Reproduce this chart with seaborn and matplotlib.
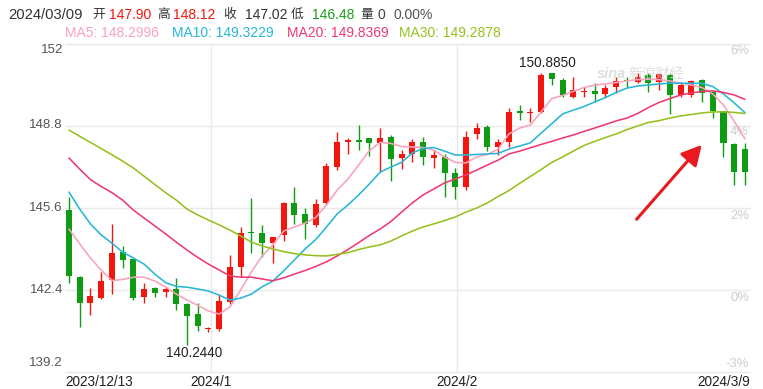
import numpy as np
import pandas as pd
import matplotlib
matplotlib.use("Agg")
import matplotlib.pyplot as plt
import matplotlib.transforms as mtransforms
import seaborn as sns

# ---------------- data ----------------
opens = [145.52, 142.92, 141.88, 142.08, 142.79, 143.87, 143.61, 142.14, 142.47, 142.32,
         142.44, 141.85, 141.46, 140.87, 140.87, 141.94, 143.31, 144.68, 144.61, 144.25,
         144.55, 145.78, 145.35, 144.94, 145.78, 147.19, 148.19, 148.21, 148.32, 148.12,
         148.38, 147.56, 147.71, 148.19, 147.54, 147.60, 146.95, 146.41, 148.49, 148.77,
         147.97, 148.19, 149.39, 149.31, 149.36, 150.86, 150.60, 149.94, 150.12, 150.17,
         150.05, 150.33, 150.60, 150.53, 150.79, 150.53, 150.79, 150.01, 150.01, 150.60,
         150.14, 149.40, 148.10, 147.90]
highs = [146.04, 142.95, 142.47, 143.11, 144.98, 144.12, 143.65, 142.66, 142.53, 142.53,
         142.86, 141.88, 141.90, 140.96, 142.24, 143.77, 144.87, 145.98, 144.94, 144.48,
         145.85, 146.43, 145.59, 145.95, 147.34, 148.57, 148.32, 148.84, 148.32, 148.73,
         148.45, 147.86, 148.28, 148.38, 147.86, 147.71, 147.15, 148.62, 148.93, 148.84,
         148.28, 149.51, 149.62, 149.49, 150.885, 150.86, 150.66, 150.70, 150.33, 150.47,
         150.40, 150.72, 150.72, 150.86, 150.86, 150.86, 150.86, 150.47, 150.60, 150.62,
         150.20, 149.40, 148.15, 148.12]
lows = [142.66, 140.97, 141.42, 142.05, 142.24, 143.25, 142.00, 141.88, 142.12, 142.14,
        141.62, 140.244, 140.81, 140.77, 140.81, 141.85, 142.92, 143.83, 143.70, 143.44,
        144.32, 144.98, 144.38, 144.85, 145.72, 147.08, 147.70, 147.86, 147.63, 146.99,
        146.67, 147.11, 147.41, 147.28, 147.15, 146.04, 145.94, 146.30, 148.29, 147.84,
        147.67, 147.97, 149.03, 148.97, 149.32, 150.40, 149.94, 149.88, 149.92, 149.75,
        149.92, 150.08, 150.33, 150.47, 150.14, 150.20, 149.27, 149.92, 149.92, 149.75,
        149.10, 147.60, 146.50, 146.48]
closes = [142.95, 141.88, 142.17, 142.75, 143.83, 143.57, 142.08, 142.44, 142.27, 142.43,
          141.85, 141.40, 141.01, 140.93, 141.98, 143.31, 144.61, 144.62, 144.25, 144.46,
          145.81, 145.33, 144.98, 145.76, 147.24, 148.18, 148.21, 148.19, 148.15, 148.32,
          147.51, 147.71, 148.19, 147.58, 147.67, 146.95, 146.43, 148.36, 148.71, 147.97,
          148.19, 149.36, 149.32, 149.36, 150.79, 150.62, 150.01, 150.20, 150.17, 150.04,
          150.27, 150.57, 150.55, 150.72, 150.47, 150.82, 150.01, 150.40, 150.56, 150.08,
          149.40, 148.12, 147.02, 147.02]

ma5 = [144.78, 144.20, 143.65, 143.18, 142.77, 142.81, 142.90, 142.90, 142.75, 142.52,
       142.24, 142.01, 141.80, 141.58, 141.46, 141.74, 142.40, 143.10, 143.73, 144.16,
       144.70, 144.86, 145.01, 145.23, 145.72, 146.30, 146.73, 147.28, 147.84, 148.16,
       148.12, 148.00, 147.98, 147.96, 147.86, 147.59, 147.38, 147.36, 147.59, 147.69,
       147.90, 148.49, 148.72, 148.84, 149.35, 149.87, 149.99, 150.15, 150.30, 150.40,
       150.44, 150.50, 150.56, 150.61, 150.62, 150.61, 150.56, 150.47, 150.40, 150.30,
       150.05, 149.62, 148.98, 148.30]
ma10 = [146.22, 145.56, 144.98, 144.55, 144.23, 143.88, 143.65, 143.41, 143.02, 142.69,
        142.54, 142.51, 142.44, 142.36, 142.20, 142.01, 142.08, 142.24, 142.52, 142.75,
        143.14, 143.57, 144.00, 144.37, 144.86, 145.37, 145.72, 146.11, 146.54, 147.00,
        147.20, 147.38, 147.75, 147.92, 147.96, 147.82, 147.67, 147.67, 147.69, 147.71,
        147.73, 147.90, 148.02, 148.14, 148.52, 148.89, 149.27, 149.42, 149.56, 149.74,
        149.91, 150.11, 150.28, 150.36, 150.40, 150.44, 150.47, 150.47, 150.47, 150.46,
        150.34, 150.05, 149.70, 149.32]
ma20 = [147.55, 147.12, 146.71, 146.44, 146.20, 145.91, 145.52, 145.21, 144.90, 144.59,
        144.27, 143.96, 143.67, 143.41, 143.18, 142.95, 142.90, 142.90, 142.83, 142.76,
        142.87, 143.02, 143.16, 143.32, 143.50, 143.73, 143.98, 144.25, 144.53, 144.78,
        145.07, 145.44, 145.80, 146.11, 146.34, 146.58, 146.73, 146.89, 147.08, 147.28,
        147.47, 147.71, 147.82, 147.95, 148.08, 148.20, 148.33, 148.45, 148.59, 148.72,
        148.86, 149.00, 149.11, 149.29, 149.52, 149.72, 149.87, 150.01, 150.09, 150.15,
        150.17, 150.11, 150.01, 149.84]
ma30 = [148.64, 148.40, 148.16, 147.92, 147.68, 147.43, 147.16, 146.84, 146.52, 146.20,
        145.91, 145.56, 145.33, 145.13, 144.94, 144.74, 144.51, 144.27, 144.12, 144.00,
        143.90, 143.82, 143.77, 143.74, 143.73, 143.79, 143.86, 143.98, 144.08, 144.16,
        144.31, 144.51, 144.70, 144.86, 144.98, 145.11, 145.25, 145.44, 145.60, 145.80,
        146.05, 146.28, 146.56, 146.83, 147.10, 147.38, 147.59, 147.82, 148.04, 148.20,
        148.35, 148.49, 148.66, 148.80, 148.94, 149.01, 149.11, 149.19, 149.25, 149.31,
        149.35, 149.35, 149.33, 149.29]

ma_names = ["MA5", "MA10", "MA20", "MA30"]
ma_last = ["148.2996", "149.3229", "149.8369", "149.2878"]

y_ticks = [152, 148.8, 145.6, 142.4, 139.2]
y_tick_labels = ["152", "148.8", "145.6", "142.4", "139.2"]
pct_labels = ["6%", "4%", "2%", "0%", "-3%"]
month_ticks = [13.21, 36.13]
month_labels = ["2024/1", "2024/2"]
first_date_pos = 2.8
first_date_label = "2023/12/13"
last_date_label = "2024/3/9"

header_date = "2024/03/09"
header_keys = ["开", "高", "收", "低", "量"]
header_vals = ["147.90", "148.12", "147.02", "146.48", "0"]
header_pct = "0.00%"

# ---------------- style ----------------
sns.set_theme(style="white")
plt.rcParams["font.family"] = ["Liberation Sans", "Noto Sans CJK SC", "DejaVu Sans"]

RED = "#f2170e"
GREEN = "#0f9c14"
MA_COLORS = {"MA5": "#f8a2bc", "MA10": "#28b6d8", "MA20": "#ee3a74", "MA30": "#95c11f"}

W, H = 763, 389
fig = plt.figure(figsize=(W / 100, H / 100), dpi=100)
fig.patch.set_facecolor("white")
ax = fig.add_axes([65 / W, (H - 372) / H, 685 / W, 328 / H])
ax.set_facecolor("white")

idx = np.arange(len(opens))
o = np.array(opens); c = np.array(closes); hi = np.array(highs); lo = np.array(lows)
up = c >= o
colors = np.where(up, RED, GREEN)

# wicks
ax.vlines(idx, lo, hi, colors=colors, linewidth=1.0, zorder=2)
# bodies
body_bottom = np.minimum(o, c)
body_h = np.maximum(np.abs(c - o), 0.045)
ax.bar(idx, body_h, bottom=body_bottom, width=0.56, color=colors, linewidth=0, zorder=3)

# moving averages via seaborn
ma_df = pd.concat([
    pd.DataFrame({"idx": idx, "value": vals, "ma": name})
    for name, vals in zip(ma_names, [ma5, ma10, ma20, ma30])
])
sns.lineplot(data=ma_df, x="idx", y="value", hue="ma", palette=MA_COLORS,
             legend=False, linewidth=1.15, ax=ax, sort=False, zorder=4)

ax.set_xlim(-0.37, 63.47)
ax.set_ylim(139.2, 152)
ax.set_xlabel("")
ax.set_ylabel("")

# grid
ax.set_yticks(y_ticks)
ax.set_xticks(month_ticks)
ax.set_yticklabels([])
ax.set_xticklabels([])
ax.tick_params(length=0)
ax.grid(True, color="#e9e9e9", linewidth=1.0, zorder=0)
for gl in ax.get_ygridlines() + ax.get_xgridlines():
    gl.set_clip_on(False)
for sp in ax.spines.values():
    sp.set_visible(False)

def off(dx_px, dy_px, base):
    return base + mtransforms.ScaledTranslation(dx_px / 100, -dy_px / 100, fig.dpi_scale_trans)

# left y labels
left_offsets = [6, -1, 0, 0, -9]
for v, lab, d in zip(y_ticks, y_tick_labels, left_offsets):
    ax.text(0, v, lab, transform=off(-2, d, ax.get_yaxis_transform()),
            ha="right", va="center", fontsize=9.6, color="#555555")

# right percent labels
right_offsets = [7, 6, 8, 8, -8]
for v, lab, d in zip(y_ticks, pct_labels, right_offsets):
    ax.text(1, v, lab, transform=off(-1, d, ax.get_yaxis_transform()),
            ha="right", va="center", fontsize=9.4, color="#cccccc", zorder=1)

# x labels
xt = ax.get_xaxis_transform()
for p, lab in zip(month_ticks, month_labels):
    ax.text(p, 0, lab, transform=off(0, 10, xt), ha="center", va="center",
            fontsize=9.8, color="#222222")
ax.text(first_date_pos, 0, first_date_label, transform=off(0, 10, xt),
        ha="center", va="center", fontsize=9.8, color="#222222")
ax.text(1, 0, last_date_label, transform=off(0, 10, ax.transAxes),
        ha="right", va="center", fontsize=9.8, color="#222222")

# extreme labels
imax = int(np.argmax(hi)); imin = int(np.argmin(lo))
ax.annotate(f"{hi[imax]:.4f}", xy=(imax, hi[imax]), xytext=(4.6, 6.7),
            textcoords="offset points", ha="center", va="center",
            fontsize=9.8, color="#222222", zorder=6)
ax.annotate(f"{lo[imin]:.4f}", xy=(imin, lo[imin]), xytext=(4.8, -5.8),
            textcoords="offset points", ha="center", va="center",
            fontsize=9.8, color="#222222", zorder=6)

# red arrow annotation
ax.annotate("", xy=(58.97, 148.06), xytext=(52.9, 145.16),
            arrowprops=dict(arrowstyle="-|>,head_length=0.6,head_width=0.32",
                            mutation_scale=20, color="#e8191f", lw=2.2,
                            shrinkA=0, shrinkB=0), zorder=7)

# watermark
fig.text(597 / W, 1 - 74 / H, "sina", fontsize=10.5, style="italic", weight="bold",
         color="#d9d9d9", alpha=0.85, ha="left", va="center", zorder=8)
fig.text(628 / W, 1 - 74 / H, "新浪财经", fontsize=10, color="#d9d9d9", alpha=0.85,
         ha="left", va="center", zorder=8)

# header line 1
def ftext(x, y, s, color, size=10):
    fig.text(x / W, 1 - y / H, s, ha="left", va="center", fontsize=size, color=color)

ftext(8, 15, header_date, "#333333", size=10.6)
key_x = [92, 157, 223, 291, 360]
val_x = [109, 173, 245, 312, 378]
val_colors = [RED, RED, "#333333", "#1a9e1a", "#444444"]
for k, kx, v, vx, vc in zip(header_keys, key_x, header_vals, val_x, val_colors):
    ftext(kx, 15, k, "#333333", size=9.2)
    ftext(vx, 15, v, vc)
ftext(393, 15, header_pct, "#555555")

# header line 2 (MA values)
ma_x = [65, 172, 287, 399]
for name, val, x in zip(ma_names, ma_last, ma_x):
    ftext(x, 33, f"{name}: {val}", MA_COLORS[name])

fig.savefig("out.png", dpi=100)
